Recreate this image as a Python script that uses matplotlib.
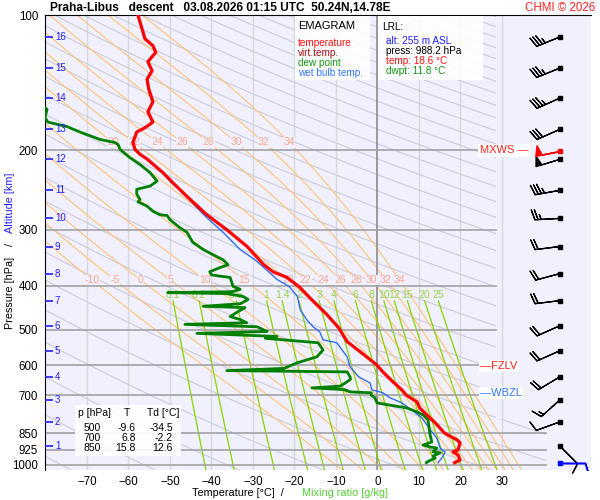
import numpy as np
import matplotlib
matplotlib.use('Agg')
import matplotlib.pyplot as plt
from matplotlib.patches import Polygon, Rectangle
from matplotlib.ticker import FixedLocator, NullLocator, FixedFormatter

plt.rcParams['font.family'] = ['Liberation Sans', 'DejaVu Sans']

# ---------------- data ----------------
temp_p = [100, 109, 113, 117, 121, 127, 133, 139, 146, 156, 164, 173, 178, 182, 192, 199, 204, 209,
          224, 236, 253, 278, 300, 327, 358, 372, 383, 403, 425, 447, 463, 495, 532, 560, 599, 621,
          653, 681, 700, 724, 747, 774, 806, 850, 880, 893, 926, 935, 950, 975, 988.2]
temp_t = [-57.7, -56.5, -56.0, -54.1, -53.4, -55.3, -54.3, -55.5, -55.1, -54.1, -55.3, -54.1, -56.0,
          -58.0, -58.9, -58.4, -57.2, -55.5, -51.7, -49.3, -45.9, -41.1, -36.3, -31.4, -27.5, -25.2,
          -21.8, -18.7, -16.3, -13.9, -12.2, -9.4, -7.3, -4.2, -0.2, 1.3, 3.7, 5.9, 7.0, 9.5, 10.2,
          11.9, 13.9, 16.2, 19.2, 19.9, 19.4, 18.2, 19.4, 19.9, 18.6]

wetbulb_p = [100, 109, 113, 117, 121, 127, 133, 139, 146, 156, 164, 173, 178, 182, 192, 199, 204, 209,
             224, 236, 244, 280, 304, 332, 350, 368, 387, 401, 422, 452, 476, 493, 506, 527, 535, 575,
             605, 637, 657, 681, 691, 709, 728, 774, 786, 844, 871, 917, 936, 965, 988.2]
wetbulb_t = [-57.9, -56.7, -56.2, -54.3, -53.6, -55.5, -54.5, -55.7, -55.3, -54.3, -55.5, -54.3, -56.2,
             -58.2, -59.1, -58.6, -57.4, -55.7, -51.9, -49.5, -47.8, -41.5, -37.2, -33.1, -29.5, -26.8,
             -24.2, -21.3, -19.3, -18.6, -17.0, -15.5, -13.9, -13.1, -9.8, -7.3, -6.6, -4.5, -1.8, -1.3,
             1.3, 3.0, 5.9, 9.8, 10.7, 13.1, 14.3, 15.1, 16.3, 15.5, 14.6]

dew_p = [150, 160, 162, 169, 173, 177, 182, 189, 192, 194, 199, 207, 215, 224, 234, 240, 244, 250, 257,
         260, 266, 273, 278, 279, 285, 297, 304, 320, 332, 341, 350, 359, 364, 372, 378, 381, 383, 393,
         401, 407, 412, 414, 416, 422, 429, 438, 444, 447, 458, 468, 475, 483, 487, 493, 505, 510, 518,
         523, 535, 555, 575, 593, 610, 617, 621, 637, 645, 655, 668, 674, 680, 688, 691, 700, 709, 728,
         747, 762, 774, 794, 850, 889, 903, 912, 917, 935, 940, 955, 965, 985, 988.2]
dew_t = [-84.0, -80.5, -79.6, -80.1, -79.4, -74.8, -71.7, -66.9, -63.3, -62.5, -62.0, -59.8, -57.2,
         -54.8, -53.1, -54.8, -58.0, -58.0, -57.2, -57.7, -55.5, -54.1, -52.4, -50.7, -50.0, -47.6,
         -45.9, -44.5, -42.0, -39.6, -37.2, -36.0, -37.9, -40.4, -40.0, -37.5, -35.5, -35.1, -34.8,
         -33.1, -35.0, -50.5, -36.5, -32.4, -31.2, -33.0, -42.0, -31.9, -33.9, -35.5, -33.1, -31.5,
         -46.4, -29.0, -26.6, -43.5, -24.2, -27.0, -14.3, -13.1, -14.6, -19.4, -22.5, -36.3, -7.3,
         -6.6, -6.5, -7.5, -9.0, -15.8, -8.0, -6.6, -1.5, -1.5, -0.6, -0.1, 7.1, 9.5, 11.0, 12.2, 12.6,
         13.1, 11.0, 12.7, 14.3, 13.4, 15.1, 13.4, 13.9, 11.9, 11.8]

alt_km = [1, 2, 3, 4, 5, 6, 7, 8, 9, 10, 11, 12, 13, 14, 15, 16]
alt_p = [907.5, 802, 716.6, 636.8, 557.3, 490.3, 431.3, 375.6, 327, 283.2, 245.3, 209.3, 179.5, 153,
         131.2, 111.9]
wind_dir = [135, 250, 228, 239, 246, 246, 263, 255, 263, 267, 260, 253, 246, 246, 248, 248]
wind_spd = [10, 10, 15, 20, 20, 20, 20, 20, 20, 25, 35, 50, 30, 35, 35, 35]

mxws_p, mxws_dir, mxws_spd = 201, 259, 50
sfc_p, sfc_dir, sfc_spd = 988.2, 90, 10
fzlv_p, wbzl_p = 603, 692

isobars = [100, 200, 300, 400, 500, 600, 700, 850, 925, 1000]
isotherms = [-70, -60, -50, -40, -30, -20, -10, 0, 10, 20, 30]
theta_grey = list(range(157, 940, 20))
thw_values = [-10, -5, 0, 5, 10, 15, 20, 22, 24, 26, 28, 30, 32, 34]
mix_values = [0.1, 0.2, 0.5, 1, 1.4, 2, 3, 4, 6, 8, 10, 12, 15, 20, 25]
mix_labels = ['0.1', '0.2', '0.5', '1', '1.4', '2', '3', '4', '6', '8', '10', '12', '15', '20', '25']

table_p = ['500', '700', '850']
table_t = ['-9.6', '6.8', '15.8']
table_td = ['-34.5', '-2.2', '12.6']

# ---------------- helpers ----------------
def moist_adiabat(thw_c, p_up, p_down):
    Rd, cp, Lv, eps = 287.04, 1005.7, 2.501e6, 0.622

    def dTdp(T, p):
        tc = T - 273.15
        es = 6.112 * np.exp(17.67 * tc / (tc + 243.5))
        r = eps * es / (p - es)
        return (Rd * T + Lv * r) / (p * (cp + Lv * Lv * r * eps / (Rd * T * T)))

    def integ(pp):
        T = thw_c + 273.15
        out = [T]
        for i in range(1, len(pp)):
            dp = pp[i] - pp[i - 1]
            k1 = dTdp(T, pp[i - 1])
            k2 = dTdp(T + dp * k1, pp[i])
            T = T + 0.5 * dp * (k1 + k2)
            out.append(T)
        return np.array(out) - 273.15

    tu = integ(p_up)
    td = integ(p_down)
    p_all = np.concatenate([p_down[::-1], p_up[1:]])
    t_all = np.concatenate([td[::-1], tu[1:]])
    return p_all, t_all


def mix_temp(w, p):
    e = w * p / (622.0 + w)
    a = np.log(e / 6.112)
    return 243.5 * a / (17.67 - a)


# ---------------- figure ----------------
fig = plt.figure(figsize=(6, 5), dpi=100)
fig.patch.set_facecolor('white')
ax = fig.add_axes([0.075, 0.06, 0.91, 0.91])
ax.set_facecolor('#f0f0ff')
ax.set_yscale('log')
XL, XR = -80.1, 51.45
ax.set_xlim(XL, XR)
ax.set_ylim(1026, 100)

XCLIP = 28.5
clip = Polygon([(XL, 99), (XCLIP, 99), (XCLIP, 790), (40.5, 790), (40.5, 1040), (XL, 1040)],
               closed=True, transform=ax.transData)

# isotherms
for t in isotherms:
    ax.plot([t, t], [100, 1026], color='#8c8c8c' if t == 0 else '#d9d9dc',
            lw=1.2 if t == 0 else 1.0, zorder=1.5 if t == 0 else 1)

# grey diagonal (adiabat-type) lines
pp = np.logspace(np.log10(1040), 2, 200)
for th in theta_grey:
    tt = th * (pp / 1000.0) ** 0.455 - 273.15
    ln, = ax.plot(tt, pp, color='#cdcdd6', lw=0.8, zorder=1.2)
    ln.set_clip_path(clip)

# moist adiabats
p_up = np.linspace(1000, 100, 901)
p_down = np.linspace(1000, 1040, 41)
for thw in thw_values:
    pm, tm = moist_adiabat(thw, p_up, p_down)
    ln, = ax.plot(tm, pm, color='#ffc47a', lw=0.8, zorder=1.4)
    ln.set_clip_path(clip)
    for plab in (192, 388):
        tl = np.interp(plab, pm[::-1], tm[::-1])
        if XL + 6 < tl < XCLIP + 1:
            ax.text(tl, plab, str(thw), color='#ffa688', fontsize=7.5, ha='center', va='center',
                    zorder=2.2, bbox=dict(facecolor='#f0f0ff', edgecolor='none', pad=0.3))

# mixing ratio lines
pmx = np.logspace(np.log10(432), np.log10(1040), 60)
for w, lab in zip(mix_values, mix_labels):
    tt = mix_temp(w, pmx)
    ln, = ax.plot(tt, pmx, color='#8ad400', lw=0.9, zorder=1.6)
    ln.set_clip_path(clip)
    ax.text(tt[0], 419, lab, color='#96d64a', fontsize=7.5, ha='center', va='center', zorder=2.2)

# isobars
for p in isobars[1:]:
    xr = 40.5 if p >= 850 else XCLIP
    ax.plot([XL, xr], [p, p], color='#a3a3a3', lw=1.2, zorder=2.5)

# profiles
ax.plot(wetbulb_t, wetbulb_p, color='#1f63ff', lw=0.9, zorder=5)
ax.plot(dew_t, dew_p, color='#008000', lw=2.0, zorder=5.2, solid_joinstyle='round')
ax.plot(temp_t, temp_p, color='#ff0000', lw=2.3, zorder=5.4, solid_joinstyle='round')

# altitude labels
ytr = ax.get_yaxis_transform()
ax.plot([0.0075] * len(alt_p), alt_p, ls='none', marker='_', ms=6, mew=1.2, color='#2020ff',
        transform=ytr, zorder=6)
for km, p in zip(alt_km, alt_p):
    ax.text(0.018, p, str(km), color='#2020ff', fontsize=7, va='center', ha='left',
            transform=ytr, zorder=6)

# wind barbs
XB = 0.943
d = np.deg2rad(np.array(wind_dir))
s = np.array(wind_spd, dtype=float)
u = -s * np.sin(d)
v = -s * np.cos(d)
ax.barbs([XB] * len(alt_p), alt_p, u, v, length=6.0, lw=0.9, color='black',
         transform=ytr, zorder=7, clip_on=False)
ax.plot([XB] * len(alt_p), alt_p, ls='none', marker='s', ms=2.5, color='black', transform=ytr, zorder=7)

dm = np.deg2rad(mxws_dir)
ax.barbs([XB], [mxws_p], [-mxws_spd * np.sin(dm)], [-mxws_spd * np.cos(dm)], length=6.0, lw=1.1,
         color='red', transform=ytr, zorder=7)
ax.plot([XB], [mxws_p], ls='none', marker='s', ms=2.5, color='red', transform=ytr, zorder=7)

dsf = np.deg2rad(sfc_dir)
ax.barbs([XB], [sfc_p], [-sfc_spd * np.sin(dsf)], [-sfc_spd * np.cos(dsf)], length=6.0, lw=1.1,
         color='#0000ff', transform=ytr, zorder=7)
ax.plot([XB], [sfc_p], ls='none', marker='s', ms=3, color='#0000ff', transform=ytr, zorder=7)

# level markers
wb = dict(facecolor='white', edgecolor='none', pad=1.0)
ax.text(0.797, fzlv_p, '\u2014FZLV', color='#ff2020', fontsize=8, va='center', ha='left',
        transform=ytr, zorder=8, bbox=wb)
ax.text(0.797, wbzl_p, '\u2014WBZL', color='#3377ff', fontsize=8, va='center', ha='left',
        transform=ytr, zorder=8, bbox=wb)
ax.text(0.885, 200, 'MXWS \u2014', color='#ff2020', fontsize=8, va='center', ha='right',
        transform=ytr, zorder=8, bbox=wb)

# legend box
axt = ax.transAxes
ax.add_patch(Rectangle((0.458, 0.857), 0.137, 0.141, transform=axt, facecolor='white',
                       edgecolor='none', alpha=0.9, zorder=8))
ax.text(0.463, 0.975, 'EMAGRAM', transform=axt, fontsize=8, va='center', zorder=9)
for i, (txt, col) in enumerate([('temperature', '#ff1010'), ('virt.temp.', '#a01010'),
                                ('dew point', '#119911'), ('wet bulb temp.', '#3377ff')]):
    ax.text(0.463, 0.9385 - 0.022 * i, txt, color=col, transform=axt, fontsize=7.2, va='center', zorder=9)

ax.add_patch(Rectangle((0.610, 0.857), 0.192, 0.141, transform=axt, facecolor='white',
                       edgecolor='none', alpha=0.9, zorder=8))
ax.text(0.617, 0.9736, 'LRL:', transform=axt, fontsize=7.2, va='center', zorder=9)
for i, (txt, col) in enumerate([('alt: 255 m ASL', '#2020ff'), ('press: 988.2 hPa', 'black'),
                                ('temp: 18.6 \u00b0C', '#ff1010'), ('dwpt: 11.8 \u00b0C', '#119911')]):
    ax.text(0.624, 0.9429 - 0.022 * i, txt, color=col, transform=axt, fontsize=7.2, va='center', zorder=9)

# table box
ax.add_patch(Rectangle((0.055, 0.031), 0.194, 0.112, transform=axt, facecolor='white',
                       edgecolor='none', alpha=0.9, zorder=8))
ax.text(0.0604, 0.125, 'p [hPa]', transform=axt, fontsize=7.5, va='center', zorder=9)
ax.text(0.150, 0.125, 'T', transform=axt, fontsize=7.5, va='center', ha='center', zorder=9)
ax.text(0.187, 0.125, 'Td [\u00b0C]', transform=axt, fontsize=7.5, va='center', zorder=9)
for i in range(3):
    yy = 0.092 - 0.022 * i
    ax.text(0.1026, yy, table_p[i], transform=axt, fontsize=7.5, va='center', ha='right', zorder=9)
    ax.text(0.1667, yy, table_t[i], transform=axt, fontsize=7.5, va='center', ha='right', zorder=9)
    ax.text(0.234, yy, table_td[i], transform=axt, fontsize=7.5, va='center', ha='right', zorder=9)

# axes styling
for side in ('bottom', 'right'):
    ax.spines[side].set_visible(False)
ax.spines['left'].set_color('black')
ax.spines['top'].set_color('black')
ax.yaxis.set_major_locator(FixedLocator(isobars))
ax.yaxis.set_minor_locator(NullLocator())
ax.yaxis.set_major_formatter(FixedFormatter([str(p) for p in isobars]))
ax.xaxis.set_major_locator(FixedLocator(isotherms))
ax.tick_params(axis='both', length=0, labelsize=8.3)
ax.tick_params(axis='y', pad=5)
ax.tick_params(axis='x', pad=4)

# titles and axis labels
fig.text(50 / 600, 1 - 8 / 500, 'Praha-Libus   descent   03.08.2026 01:15 UTC  50.24N,14.78E',
         fontsize=8.6, fontweight='bold', va='center', ha='left')
fig.text(595 / 600, 1 - 8 / 500, 'CHMI \u00a9 2026', color='#ff2020', fontsize=8.3, va='center', ha='right')
fig.text(10 / 600, 1 - 293 / 500, 'Pressure [hPa]', rotation=90, fontsize=7.8, va='center', ha='center')
fig.text(10 / 600, 1 - 244 / 500, '/', rotation=90, fontsize=7.8, va='center', ha='center')
fig.text(10 / 600, 1 - 203 / 500, 'Altitude [km]', rotation=90, fontsize=7.8, va='center', ha='center',
         color='#2020ff')
fig.text(238 / 600, 1 - 493 / 500, 'Temperature [\u00b0C]  /', fontsize=7.8, va='center', ha='center')
fig.text(345 / 600, 1 - 493 / 500, 'Mixing ratio [g/kg]', fontsize=7.8, va='center', ha='center',
         color='#55cc33')

fig.savefig('out.png', dpi=100)
